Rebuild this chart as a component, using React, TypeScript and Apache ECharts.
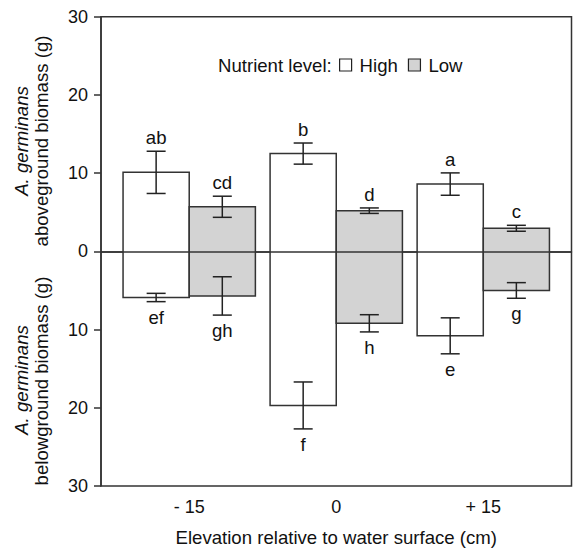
import React, { useEffect, useRef } from "react";
import * as echarts from "echarts";

// ---- data ----
const categories = ["- 15", "0", "+ 15"];
const categoryPos = [1, 2, 3];

const aboveHigh = [10.1, 12.5, 8.6];
const aboveHighSE = [2.7, 1.35, 1.43];
const aboveLow = [5.7, 5.2, 2.95];
const aboveLowSE = [1.35, 0.35, 0.38];

const belowHigh = [5.9, 19.7, 10.8];
const belowHighSE = [0.53, 3.0, 2.3];
const belowLow = [5.7, 9.2, 5.0];
const belowLowSE = [2.45, 1.1, 1.0];

const lettersAboveHigh = ["ab", "b", "a"];
const lettersAboveLow = ["cd", "d", "c"];
const lettersBelowHigh = ["ef", "f", "e"];
const lettersBelowLow = ["gh", "h", "g"];

const yTicks = [-30, -20, -10, 0, 10, 20, 30];

const FONT = "'Liberation Sans', Arial, Helvetica, sans-serif";
const FS = 18.6;
const INK = "#111";
const LINE = "#333";
const GRAY = "#d3d3d3";
const BAR_W = 0.45;

function buildData(above: number[], aboveSE: number[], below: number[], belowSE: number[]) {
  return categoryPos.map((x, i) => [x, above[i], aboveSE[i], below[i], belowSE[i]]);
}

function makeRender(offset: number, fill: string, upLetters: string[], downLetters: string[]) {
  return (params: any, api: any) => {
    const x = api.value(0);
    const a = api.value(1);
    const aSE = api.value(2);
    const b = api.value(3);
    const bSE = api.value(4);
    const left = x + offset;
    const right = left + BAR_W;
    const mid = left + BAR_W / 2;
    const tl = api.coord([left, a]);
    const br = api.coord([right, -b]);
    const cx = api.coord([mid, 0])[0];
    const cap = 9.5;
    const yAT = api.coord([mid, a + aSE])[1];
    const yAB = api.coord([mid, a - aSE])[1];
    const yBT = api.coord([mid, -(b - bSE)])[1];
    const yBB = api.coord([mid, -(b + bSE)])[1];
    const ls = { stroke: "#222", lineWidth: 1.5 };
    const ln = (x1: number, y1: number, x2: number, y2: number) => ({
      type: "line",
      shape: { x1, y1, x2, y2 },
      style: ls,
    });
    const i = params.dataIndex;
    return {
      type: "group",
      children: [
        {
          type: "rect",
          shape: { x: tl[0], y: tl[1], width: br[0] - tl[0], height: br[1] - tl[1] },
          style: { fill, stroke: LINE, lineWidth: 1.5 },
        },
        ln(cx, yAT, cx, yAB),
        ln(cx - cap, yAT, cx + cap, yAT),
        ln(cx - cap, yAB, cx + cap, yAB),
        ln(cx, yBT, cx, yBB),
        ln(cx - cap, yBT, cx + cap, yBT),
        ln(cx - cap, yBB, cx + cap, yBB),
        {
          type: "text",
          x: cx,
          y: yAT - 4,
          style: {
            text: upLetters[i],
            align: "center",
            verticalAlign: "bottom",
            fontSize: FS,
            fontFamily: FONT,
            fill: INK,
          },
        },
        {
          type: "text",
          x: cx,
          y: yBB + 6,
          style: {
            text: downLetters[i],
            align: "center",
            verticalAlign: "top",
            fontSize: FS,
            fontFamily: FONT,
            fill: INK,
          },
        },
      ],
    };
  };
}

export default function App() {
  const ref = useRef<HTMLDivElement>(null);
  useEffect(() => {
    document.body.style.margin = "0";
    if (!ref.current) return;
    const chart = echarts.init(ref.current, undefined, { renderer: "svg" });
    const textBase = { fontFamily: FONT, fontSize: FS, color: INK };
    const yTitle = (text: string, x: number, y: number, italic: boolean) => ({
      type: "text",
      x,
      y,
      rotation: Math.PI / 2,
      style: {
        text,
        fontStyle: italic ? "italic" : "normal",
        fontSize: FS,
        fontFamily: FONT,
        fill: INK,
        align: "center",
        verticalAlign: "middle",
      },
    });
    chart.setOption({
      animation: false,
      backgroundColor: "#fff",
      textStyle: { fontFamily: FONT },
      grid: {
        left: 101,
        right: 1.5,
        top: 16.7,
        bottom: 61.3,
        show: true,
        borderColor: LINE,
        borderWidth: 1.5,
        backgroundColor: "transparent",
      },
      legend: {
        left: 339,
        top: 55.5,
        padding: 0,
        itemWidth: 12,
        itemHeight: 12,
        itemGap: 10,
        icon: "rect",
        selectedMode: false,
        textStyle: { ...textBase, padding: [0, 0, 0, 3] },
        data: [
          { name: "High", itemStyle: { color: "#fff", borderColor: "#222", borderWidth: 1.2 } },
          { name: "Low", itemStyle: { color: GRAY, borderColor: "#222", borderWidth: 1.2 } },
        ],
      },
      xAxis: {
        type: "value",
        min: 0.4,
        max: 3.6,
        splitLine: { show: false },
        axisLine: { show: true, lineStyle: { color: LINE, width: 1.5 } },
        axisTick: {
          show: true,
          length: 7,
          customValues: categoryPos,
          lineStyle: { color: LINE, width: 1.5 },
        },
        axisLabel: {
          ...textBase,
          fontSize: 18,
          margin: 12,
          customValues: categoryPos,
          formatter: (v: number) => categories[Math.round(v) - 1] ?? "",
        },
        name: "Elevation relative to water surface (cm)",
        nameLocation: "middle",
        nameGap: 42,
        nameTextStyle: textBase,
      },
      yAxis: {
        type: "value",
        min: yTicks[0],
        max: yTicks[yTicks.length - 1],
        interval: 10,
        splitLine: { show: false },
        axisLine: { show: true, lineStyle: { color: LINE, width: 1.5 } },
        axisTick: { show: true, length: 7, lineStyle: { color: LINE, width: 1.5 } },
        axisLabel: {
          ...textBase,
          fontSize: 18,
          margin: 13,
          formatter: (v: number) => String(Math.abs(v)),
        },
      },
      graphic: [
        {
          type: "text",
          left: 218,
          top: 55.5,
          style: { text: "Nutrient level:", fontSize: FS, fontFamily: FONT, fill: INK },
        },
        yTitle("A. germinans", 21.5, 141, true),
        yTitle("aboveground biomass (g)", 41, 141, false),
        yTitle("A. germinans", 21.5, 380, true),
        yTitle("belowground biomass (g)", 41, 381, false),
      ],
      series: [
        {
          type: "custom",
          name: "High",
          itemStyle: { color: "#fff" },
          data: buildData(aboveHigh, aboveHighSE, belowHigh, belowHighSE),
          renderItem: makeRender(-BAR_W, "#fff", lettersAboveHigh, lettersBelowHigh),
          z: 2,
        },
        {
          type: "custom",
          name: "Low",
          itemStyle: { color: GRAY },
          data: buildData(aboveLow, aboveLowSE, belowLow, belowLowSE),
          renderItem: makeRender(0, GRAY, lettersAboveLow, lettersBelowLow),
          z: 2,
          markLine: {
            silent: true,
            symbol: "none",
            label: { show: false },
            lineStyle: { color: LINE, width: 1.5, type: "solid" },
            z: 10,
            data: [{ yAxis: 0 }],
          },
        },
      ],
    });
    return () => chart.dispose();
  }, []);
  return <div ref={ref} style={{ width: 573, height: 552 }} />;
}
